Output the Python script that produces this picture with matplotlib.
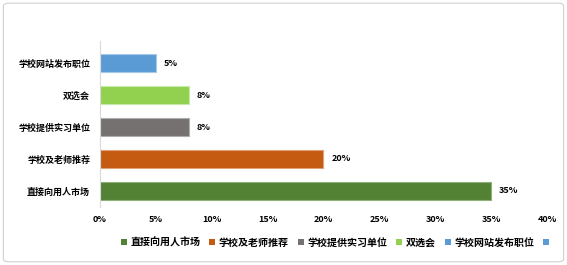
import matplotlib
matplotlib.use("Agg")
import matplotlib.pyplot as plt
from matplotlib.patches import FancyBboxPatch, Patch

plt.rcParams["font.family"] = ["Noto Sans CJK SC", "DejaVu Sans"]

categories = ["直接向用人市场", "学校及老师推荐", "学校提供实习单位", "双选会", "学校网站发布职位"]
values = [35, 20, 8, 8, 5]
colors = ["#548235", "#C55A11", "#767171", "#92D050", "#5B9BD5"]
edges = ["#8fb07a", "#e0a07a", "#b0adad", "#c8eaa8", "#a6c9ea"]
xticks = [0, 5, 10, 15, 20, 25, 30, 35, 40]

fig = plt.figure(figsize=(5.67, 2.65), dpi=100)
fig.patches.append(FancyBboxPatch((0.006, 0.012), 0.988, 0.976,
                                  boxstyle="round,pad=0,rounding_size=0.01",
                                  transform=fig.transFigure, fill=False,
                                  edgecolor="#d0d0d0", lw=0.8))

ax = fig.add_axes([0.176, 0.22, 0.789, 0.625])
ypos = range(len(categories))
ax.barh(ypos, values, height=0.57, color=colors, edgecolor=edges, linewidth=0.8)
for y, v in zip(ypos, values):
    ax.text(v + 0.7, y, f"{v}%", va="center", ha="left", fontsize=6.5,
            fontweight="bold", color="black")

ax.set_xlim(0, 40)
ax.set_ylim(-0.5, 4.7)
ax.set_xticks(xticks)
ax.set_xticklabels([f"{t}%" for t in xticks], fontsize=6.5, fontweight="bold")
ax.set_yticks(list(ypos))
ax.set_yticklabels(categories, fontsize=6.5, fontweight="bold")
ax.tick_params(length=0, pad=7)
ax.tick_params(axis="x", pad=6)
for s in ["top", "right", "bottom"]:
    ax.spines[s].set_visible(False)
ax.spines["left"].set_color("#d9d9d9")
ax.spines["left"].set_linewidth(0.8)

handles = [Patch(facecolor=c, label=l) for c, l in zip(colors, categories)]
handles.append(Patch(facecolor="#5B9BD5", label=""))
fig.legend(handles=handles, loc="center", bbox_to_anchor=(0.594, 0.085), ncol=6,
           frameon=False, handlelength=0.6, handleheight=0.6,
           handletextpad=0.35, columnspacing=0.9,
           prop={"weight": "bold", "size": 7.2})

fig.savefig("out.png", dpi=100)
